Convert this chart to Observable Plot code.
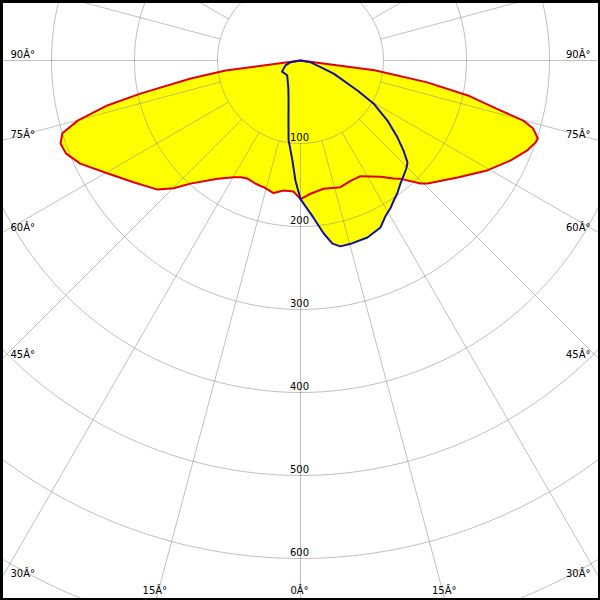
<!DOCTYPE html>
<html><head><meta charset="utf-8">
<script src="https://cdn.jsdelivr.net/npm/d3@7"></script>
<script src="https://cdn.jsdelivr.net/npm/@observablehq/plot@0.6"></script>
<style>html,body{margin:0;padding:0;background:#fff}</style>
</head><body><div id="chart"></div>
<script>
// ---- data ----
const rings = [100, 200, 300, 400, 500, 600, 700];
const ringLabels = ["100", "200", "300", "400", "500", "600"];
const spokeAngles = [0,15,30,45,60,75,90,105,120,135,150,165,180,195,210,225,240,255,270,285,300,315,330,345];
const angleTicks = [0, 15, 30, 45, 60, 75, 90];
const angleTickLabels = ["0Â°", "15Â°", "30Â°", "45Â°", "60Â°", "75Â°", "90Â°"];

// C0-C180 plane (red), signed gamma angle: negative = left side
const redAngles = [-90,-82.4,-80.7,-78.3,-76.9,-74.9,-73,-70.9,-68.4,-64.9,-59.6,-53.9,-47.9,-44.8,-41.8,-35,-29.8,-27,-24.2,-20,-16.2,-11.5,-7.5,-3.1,0,4.3,10.2,17.5,22.6,27.4,34.6,38.2,40.3,44.3,45.9,53.3,59.5,64.5,68.4,70.8,71.8,73.7,74.9,76,78.2,80.2,82.5,90];
const redValues = [0,91,134,197,239,278,300,306,304,293,269,249,232,217,199,174,162,158,156,158,159,163,158,158,167,161,157,160,157,157,170,181,187,207,213,236,261,280,294,300,301,292,278,248,206,155,90,0];

// C90-C270 plane (blue)
const blueAngles = [-90,-80,-72,-59,-42,-24,-16.7,-11.3,-8.5,-4.6,-2.4,0,4.7,7.6,9.9,12.1,15.3,20.7,25.6,28.5,31.5,34,36.1,39.1,42,44.5,46.4,48.8,51.6,55.4,59.5,62.2,68.5,80.3,90];
const blueValues = [0,12,19,26,24,36,50,74,97,121,145,167,190,210,224,229,229,228,223,214,208,202,198,191,186,182,178,165,149,127,102,78,43,12,0];

// ---- layout ----
const W = 600, H = 600, cx = 300, cy = 60, pxPer = 0.83;
const xDom = [-cx / pxPer, (W - cx) / pxPer];
const yDom = [-cy / pxPer, (H - cy) / pxPer];
const rad = d => d * Math.PI / 180;
const polar = (a, r) => ({x: r * Math.sin(rad(a)), y: r * Math.cos(rad(a))});

const redPts = redAngles.map((a, i) => polar(a, redValues[i]));
const bluePts = blueAngles.map((a, i) => polar(a, blueValues[i]));

const circlePts = rings.flatMap(r => d3.range(0, 361, 2).map(a => ({...polar(a, r), ring: r})));
const spokes = spokeAngles.map(a => {
  const p1 = polar(a, rings[0]), p2 = polar(a, 1000);
  return {x1: p1.x, y1: p1.y, x2: p2.x, y2: p2.y};
});
const ringText = ringLabels.map((t, i) => ({x: 0, y: rings[i], t}));

const leftLab = [], rightLab = [], bottomLab = [];
angleTicks.forEach((a, i) => {
  for (const side of (a === 0 ? [1] : [-1, 1])) {
    const s = Math.sin(rad(a)), c = Math.cos(rad(a));
    const tx = s > 1e-9 ? xDom[1] / s : Infinity;
    const ty = c > 1e-9 ? yDom[1] / c : Infinity;
    if (tx < ty) {
      (side < 0 ? leftLab : rightLab).push({x: side < 0 ? xDom[0] : xDom[1], y: tx * c, t: angleTickLabels[i]});
    } else {
      bottomLab.push({x: side * ty * s, y: yDom[1], t: angleTickLabels[i]});
    }
  }
});

const gridStyle = {stroke: "#8c8c8c", strokeOpacity: 0.55, strokeWidth: 1, clip: true};
const font = {fontFamily: "DejaVu Sans", fontSize: 10, fill: "black"};

const chart = Plot.plot({
  width: W, height: H,
  margin: 0,
  x: {domain: xDom, range: [0, W], axis: null},
  y: {domain: yDom, range: [0, H], axis: null},
  style: {background: "white", fontFamily: "DejaVu Sans", fontSize: "10px"},
  marks: [
    Plot.line(redPts, {x: "x", y: "y", fill: "#ffff00", stroke: "none"}),
    Plot.line(bluePts, {x: "x", y: "y", fill: "#ffff00", stroke: "none"}),
    Plot.line(circlePts, {x: "x", y: "y", z: "ring", ...gridStyle}),
    Plot.link(spokes, {x1: "x1", y1: "y1", x2: "x2", y2: "y2", ...gridStyle}),
    Plot.line(redPts, {x: "x", y: "y", stroke: "#e00000", strokeWidth: 2, strokeLinejoin: "round"}),
    Plot.line(bluePts, {x: "x", y: "y", stroke: "#12129c", strokeWidth: 2, strokeLinejoin: "round"}),
    Plot.text(ringText, {x: "x", y: "y", text: "t", dx: -1, dy: -6, textAnchor: "middle", ...font}),
    Plot.text(leftLab, {x: "x", y: "y", text: "t", dx: 10, dy: -3, textAnchor: "start", lineAnchor: "bottom", ...font}),
    Plot.text(rightLab, {x: "x", y: "y", text: "t", dx: -10, dy: -3, textAnchor: "end", lineAnchor: "bottom", ...font}),
    Plot.text(bottomLab, {x: "x", y: "y", text: "t", dx: -1, dy: -7, textAnchor: "middle", lineAnchor: "bottom", ...font}),
    Plot.frame({stroke: "black", strokeWidth: 5})
  ]
});
document.getElementById("chart").appendChild(chart);
</script>
</body></html>
